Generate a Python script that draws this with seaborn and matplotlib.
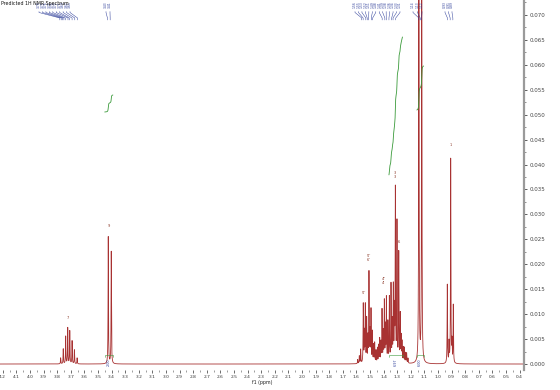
import numpy as np
import pandas as pd
import matplotlib
matplotlib.use("Agg")
import matplotlib.pyplot as plt
import seaborn as sns
from matplotlib.ticker import MultipleLocator, FormatStrFormatter

# ---------------- data ----------------
shift_a = [3.774, 3.755, 3.737, 3.722, 3.707, 3.690, 3.673, 3.653]
height_a = [0.0012, 0.0030, 0.0055, 0.0072, 0.0066, 0.0046, 0.0028, 0.0012]

shift_b = [3.424, 3.402]
height_b = [0.0255, 0.0225]

shift_c = [1.590, 1.578, 1.568, 1.549, 1.541, 1.534, 1.524, 1.515, 1.507, 1.499,
           1.492, 1.482, 1.473, 1.465, 1.455, 1.445, 1.436, 1.428, 1.419, 1.411,
           1.402, 1.394, 1.386, 1.379, 1.368, 1.357, 1.345, 1.336, 1.328, 1.320,
           1.313, 1.301, 1.288, 1.277, 1.270, 1.264, 1.255, 1.247, 1.238, 1.230, 1.220]
height_c = [0.0008, 0.0015, 0.0028, 0.0118, 0.0060, 0.0115, 0.0088, 0.0050, 0.0180, 0.0060,
            0.0105, 0.0062, 0.0035, 0.0040, 0.0025, 0.0030, 0.0035, 0.0048, 0.0040, 0.0105,
            0.0060, 0.0122, 0.0070, 0.0128, 0.0080, 0.0130, 0.0155, 0.0080, 0.0150, 0.0100,
            0.0345, 0.0279, 0.0219, 0.0095, 0.0050, 0.0040, 0.0030, 0.0030, 0.0020, 0.0020, 0.0010]

shift_d = [1.140, 1.119]
height_d = [0.110, 0.105]

shift_e = [0.931, 0.918, 0.906, 0.897, 0.887]
height_e = [0.0158, 0.0040, 0.0410, 0.0040, 0.0116]

labels_a = ["3.78", "3.77", "3.76", "3.75", "3.74", "3.72", "3.71", "3.69", "3.67", "3.65"]
labels_b = ["3.43", "3.41"]
labels_c = ["1.56", "1.55", "1.53", "1.52", "1.51", "1.49", "1.48",
            "1.41", "1.39", "1.38", "1.36", "1.34", "1.33", "1.31"]
labels_d = ["1.14", "1.13", "1.12"]
labels_e = ["0.93", "0.91", "0.89"]

integral_values = ["2.00", "6.97", "6.00"]
integral_ranges = [(3.45, 3.39), (1.36, 1.26), (1.155, 1.105)]

assign_text = ["7", "9", "5''", "5''\n6''", "4''\n4'", "3\n3", "6'", "1"]
assign_ppm = [3.72, 3.42, 1.545, 1.51, 1.40, 1.315, 1.285, 0.906]
assign_int = [0.0088, 0.0272, 0.0138, 0.0205, 0.0158, 0.0372, 0.0240, 0.0435]

xlabel = "f1 (ppm)"
title = "Predicted 1H NMR Spectrum"

# ---------------- spectrum ----------------
shifts = np.array(shift_a + shift_b + shift_c + shift_d + shift_e)
heights = np.array(height_a + height_b + height_c + height_d + height_e)
hwhm = 0.0016
ppm = np.linspace(4.22, 0.367, 20000)
spec = (heights[None, :] / (1 + ((ppm[:, None] - shifts[None, :]) / hwhm) ** 2)).sum(axis=1)
df = pd.DataFrame({"ppm": ppm, "intensity": spec})

sns.set_style("white")
plt.rcParams["font.family"] = ["DejaVu Sans"]

fig = plt.figure(figsize=(5.6, 3.9), dpi=100)
ax = fig.add_axes([0, 1 - 370 / 390, 524 / 560, 370 / 390])

sns.lineplot(data=df, x="ppm", y="intensity", ax=ax, color="#a83232",
             lw=0.6, estimator=None, sort=False)

XL = (4.22, 0.367)
YL = (-0.0012, 0.0730)
ax.set_xlim(*XL)
ax.set_ylim(*YL)


def px2ppm(px):
    return XL[0] + (XL[1] - XL[0]) * px / 524.0


def py2int(py):
    return YL[1] - (YL[1] - YL[0]) * py / 370.0


# axes styling
for s in ["top", "left", "bottom"]:
    ax.spines[s].set_visible(False)
ax.spines["right"].set_color("#9a9a9a")
ax.spines["right"].set_linewidth(1.6)
ax.yaxis.tick_right()
ax.xaxis.set_major_locator(MultipleLocator(0.1))
ax.xaxis.set_minor_locator(MultipleLocator(0.05))
ax.xaxis.set_major_formatter(FormatStrFormatter("%.1f"))
ax.yaxis.set_major_locator(MultipleLocator(0.005))
ax.yaxis.set_minor_locator(MultipleLocator(0.0025))
ax.yaxis.set_major_formatter(FormatStrFormatter("%.3f"))
ax.tick_params(axis="x", which="major", direction="out", length=2.2, width=0.5,
               labelsize=3.2, pad=1.5, colors="#333333", bottom=True)
ax.tick_params(axis="x", which="minor", direction="out", length=1.2, width=0.4,
               colors="#555555", bottom=True)
ax.tick_params(axis="y", which="major", direction="out", length=2.5, width=0.6,
               labelsize=4, pad=1.5, colors="#444444", right=True, left=False)
ax.tick_params(axis="y", which="minor", direction="out", length=1.3, width=0.5,
               colors="#666666", right=True, left=False)
ax.set_xlabel(xlabel, fontsize=3.4, labelpad=0.5, color="#222222")
ax.set_ylabel("")
ax.grid(False)

fig.text(0.001, 0.997, title, fontsize=3.4, va="top", ha="left", color="#111111")

# peak labels at top with connectors
blue = "#2f3f9a"
groups = [(labels_a, 39, 70), (labels_b, 106, 110), (labels_c, 355, 400),
          (labels_d, 413, 422), (labels_e, 445, 452)]
for labs, p0, p1 in groups:
    n = len(labs)
    pxs = np.linspace(p0, p1, n) if n > 1 else [p0]
    for lab, lx in zip(labs, pxs):
        xl = px2ppm(lx)
        ax.text(xl, py2int(1), lab, rotation=90, fontsize=2.2, color=blue,
                ha="center", va="top")
        target = float(lab)
        ax.plot([xl, xl, target, target],
                [py2int(11.5), py2int(12.5), py2int(18), py2int(20)],
                color=blue, lw=0.35)

# integral curves and brackets
green = "#3a9a3a"
curve_spans = [(112, 95), (175, 37), (110, 66)]
for (hi, lo), (y0, y1), val in zip(integral_ranges, curve_spans, integral_values):
    m = (ppm <= hi) & (ppm >= lo)
    cum = np.cumsum(spec[m])
    cum = cum / cum[-1]
    ax.plot(ppm[m], py2int(y0) + (py2int(y1) - py2int(y0)) * cum, color=green, lw=0.6)
    ax.plot([hi, hi, lo, lo], [py2int(357), py2int(355), py2int(355), py2int(357)],
            color=green, lw=0.4, clip_on=False)
    ax.text((hi + lo) / 2, py2int(358), val, rotation=90, fontsize=2.4, color=blue,
            ha="center", va="top", clip_on=False)

# assignment labels
for t, xp, yi in zip(assign_text, assign_ppm, assign_int):
    ax.text(xp, yi, t, fontsize=2.6, color="#8b3a2a", ha="center", va="bottom",
            linespacing=1.0)

fig.savefig("out.png", dpi=100)
